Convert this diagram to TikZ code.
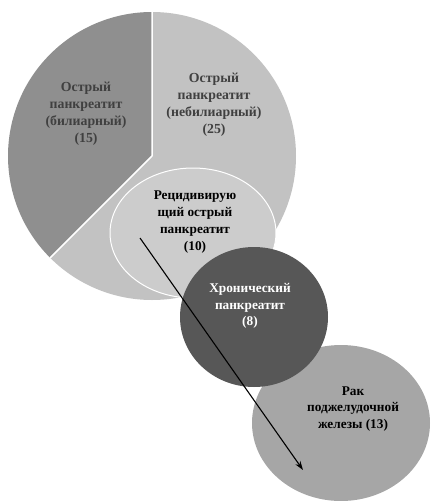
\documentclass[tikz,border=0pt]{standalone}
\usepackage{fontspec}
\setmainfont{Liberation Serif}
\usetikzlibrary{shapes.geometric,arrows.meta}
\definecolor{darkseg}{gray}{0.56}
\definecolor{lightseg}{gray}{0.76}
\definecolor{ellfill}{gray}{0.80}
\definecolor{chrfill}{gray}{0.34}
\definecolor{rakfill}{gray}{0.65}
\definecolor{pietxt}{gray}{0.25}
\begin{document}
\begin{tikzpicture}[x=1pt,y=-1pt,
  lbl/.style={font=\bfseries\fontsize{13.3}{16.8}\selectfont, align=center, inner sep=0pt},
  pielbl/.style={lbl, font=\bfseries\fontsize{13.8}{17}\selectfont, text=pietxt},
  blob/.style={ellipse, inner sep=0pt}]
\useasboundingbox (0,0) rectangle (431,501);
\coordinate (pc) at (152,156);
\fill[lightseg] (pc) -- ++(-90:144) arc (-90:135:144) -- cycle;
\fill[darkseg] (pc) -- ++(135:144) arc (135:270:144) -- cycle;
\draw[white, line width=1.5pt] (pc) -- ++(-90:144) (pc) -- ++(135:144);
\node[blob, fill=ellfill, draw=white, line width=1pt, minimum width=166pt, minimum height=130pt] (rec) at (193,233) {};
\node[blob, fill=rakfill, minimum width=178pt, minimum height=156pt] (rak) at (341,423) {};
\node[blob, fill=chrfill, minimum width=148pt, minimum height=140pt] (chr) at (254,317) {};
\node[pielbl] (t1) at (86,114) {Острый\\панкреатит\\(билиарный)\\(15)};
\node[pielbl] (t2) at (214,105) {Острый\\панкреатит\\(небилиарный)\\(25)};
\node[lbl] (t3) at (195,222) {Рецидивирую\\щий острый\\панкреатит\\(10)};
\node[lbl, text=white] (t4) at (250,306) {Хронический\\панкреатит\\(8)};
\node[lbl] (t5) at (353,409) {Рак\\поджелудочной\\железы (13)};
\coordinate (as) at (140,238);
\coordinate (ae) at (303,470);
\draw[-{Stealth[length=9pt,width=6pt]}, line width=1.1pt] (as) -- (ae);
\end{tikzpicture}
\end{document}
